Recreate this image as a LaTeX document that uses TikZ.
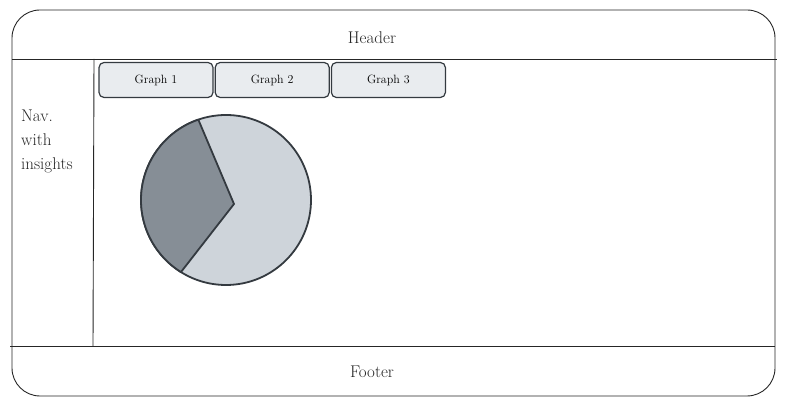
\documentclass[tikz,border=0pt]{standalone}
\usepackage{tikz}
\usetikzlibrary{positioning,calc}
\definecolor{inkgray}{HTML}{343A40}
\definecolor{tabfill}{HTML}{E9ECEF}
\definecolor{darkslice}{HTML}{868E96}
\definecolor{lightslice}{HTML}{CED4DA}
\tikzstyle{frame} = [draw=black!85, line width=0.9pt, rounded corners=28pt]
\tikzstyle{divider} = [draw=black!85, line width=0.9pt]
\tikzstyle{tab} = [rectangle, rounded corners=5pt, text centered, draw=inkgray, line width=1.2pt, fill=tabfill, minimum width=114pt, minimum height=35pt, inner sep=0pt, font=\fontsize{12}{14}\selectfont]
\tikzstyle{caption} = [text=black!85, font=\fontsize{17}{24}\selectfont]
\tikzstyle{slice} = [draw=inkgray, line width=1.8pt, line join=round]

\begin{document}
\begin{tikzpicture}[x=1pt, y=1pt]
\useasboundingbox (0,0) rectangle (787,406);

% page frame with header and footer bands
\draw [frame] (12,10) rectangle (775,396);
\draw [divider] (12,347) -- (777,347);
\draw [divider] (10,60) -- (775,60);
\draw [divider] (94,347) -- (93,59);

\node (header) [caption] at (372,368) {Header};
\node (footer) [caption] at (372,34) {Footer};
\node (nav) [caption, anchor=north west, align=left, inner sep=0pt] at (21,296) {Nav.\\with\\insights};

% tabs
\node (graphA) [tab] at (156,326) {Graph 1};
\node (graphB) [tab, right=1pt of graphA] {Graph 2};
\node (graphC) [tab, right=1pt of graphB] {Graph 3};

% pie chart
\coordinate (pie) at (226,206);
\coordinate (hub) at (234,202);
\filldraw [slice, fill=lightslice] (pie) circle (85pt);
\filldraw [slice, fill=darkslice] (hub) -- ($(pie)+(109:85pt)$) arc[start angle=109, end angle=238, radius=85pt] -- cycle;

\end{tikzpicture}
\end{document}
